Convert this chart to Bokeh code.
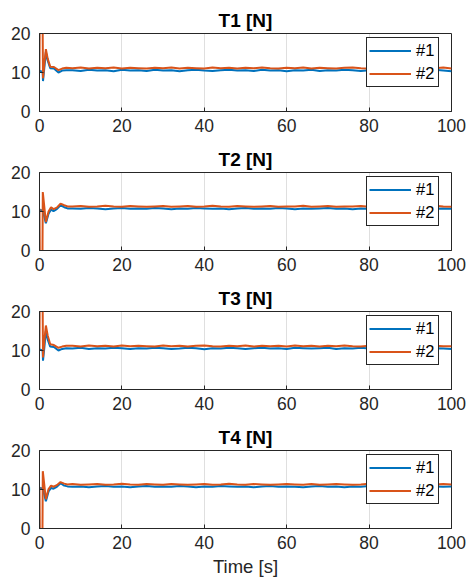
from bokeh.plotting import figure
from bokeh.layouts import column
from bokeh.embed import file_html
from bokeh.resources import INLINE

# ---------------- data ----------------
titles = ["T1 [N]", "T2 [N]", "T3 [N]", "T4 [N]"]
series_labels = ["#1", "#2"]
x_ticks = [0, 20, 40, 60, 80, 100]
y_ticks = [0, 10, 20]

# steady-state sample times (s)
t_ss = list(range(8, 101, 2))

# transient sample times (s)
t1_tr = [0, 0.05, 0.75, 0.85, 1.2, 1.55, 2.0, 2.6, 3.5, 4.6, 5.5, 6.5]
t2_tr = [0, 0.1, 0.7, 0.8, 1.55, 2.2, 2.8, 3.4, 4.2, 5.1, 6.0, 6.8]

# T1
b1_tr = [10.5, 10.4, 10.2, 7.8, 11.5, 15.2, 13.0, 11.1, 11.0, 10.0, 10.5, 10.6]
o1_tr = [10.5, 24.0, 24.0, 8.5, 12.5, 16.0, 13.5, 11.5, 11.4, 10.6, 11.0, 11.2]
b1_ss = [10.6, 10.4, 10.7, 10.5, 10.6, 10.3, 10.7, 10.5, 10.6, 10.4,
         10.7, 10.5, 10.6, 10.3, 10.6, 10.7, 10.5, 10.4, 10.6, 10.7,
         10.5, 10.6, 10.4, 10.7, 10.5, 10.6, 10.3, 10.6, 10.5, 10.7,
         10.4, 10.6, 10.5, 10.7, 10.6, 10.4, 10.6, 10.5, 10.7, 10.5,
         10.6, 10.4, 10.6, 10.5, 10.7, 10.5, 10.3]
o1_ss = [11.1, 11.3, 11.0, 11.2, 11.1, 11.3, 11.0, 11.2, 11.1, 11.0,
         11.2, 11.1, 11.3, 11.0, 11.2, 11.1, 11.0, 11.3, 11.1, 11.2,
         11.0, 11.2, 11.1, 11.3, 11.1, 11.0, 11.2, 11.1, 11.3, 11.0,
         11.2, 11.1, 11.0, 11.2, 11.3, 11.1, 11.0, 11.2, 11.1, 11.3,
         11.1, 11.2, 11.0, 11.2, 11.1, 11.3, 11.0]

# T2
b2_tr = [10.5, 10.4, 10.3, 10.2, 7.0, 9.4, 10.5, 10.1, 10.6, 11.6, 11.1, 10.8]
o2_tr = [10.7, -5.0, -5.0, 15.0, 7.3, 10.0, 11.1, 10.6, 11.0, 12.0, 11.6, 11.3]
b2_ss = [10.8, 10.7, 10.9, 10.8, 10.6, 10.8, 10.9, 10.7, 10.8, 10.7,
         10.9, 10.8, 10.6, 10.8, 10.7, 10.9, 10.8, 10.7, 10.8, 10.6,
         10.8, 10.9, 10.7, 10.8, 10.7, 10.9, 10.8, 10.6, 10.8, 10.7,
         10.8, 10.9, 10.7, 10.8, 10.6, 10.8, 10.7, 10.9, 10.8, 10.7,
         10.8, 10.6, 10.8, 10.9, 10.7, 10.8, 10.7]
o2_ss = [11.3, 11.4, 11.2, 11.3, 11.5, 11.3, 11.2, 11.4, 11.3, 11.2,
         11.3, 11.4, 11.2, 11.3, 11.4, 11.2, 11.3, 11.5, 11.3, 11.2,
         11.4, 11.3, 11.2, 11.3, 11.4, 11.2, 11.3, 11.3, 11.5, 11.2,
         11.3, 11.4, 11.2, 11.3, 11.3, 11.4, 11.2, 11.3, 11.4, 11.2,
         11.3, 11.4, 11.2, 11.3, 11.5, 11.3, 11.2]

# T3
b3_tr = [10.4, 10.3, 10.0, 7.4, 11.0, 15.0, 12.8, 11.0, 10.9, 10.0, 10.4, 10.6]
o3_tr = [10.5, 24.0, 24.0, 8.2, 12.8, 16.4, 13.8, 11.6, 11.4, 10.7, 11.0, 11.2]
b3_ss = [10.5, 10.7, 10.4, 10.6, 10.5, 10.7, 10.6, 10.4, 10.6, 10.5,
         10.7, 10.6, 10.4, 10.5, 10.7, 10.6, 10.3, 10.6, 10.5, 10.7,
         10.6, 10.4, 10.6, 10.7, 10.5, 10.6, 10.4, 10.7, 10.6, 10.5,
         10.6, 10.7, 10.4, 10.6, 10.5, 10.7, 10.5, 10.6, 10.4, 10.6,
         10.7, 10.5, 10.6, 10.4, 10.6, 10.5, 10.4]
o3_ss = [11.2, 11.0, 11.3, 11.1, 11.2, 11.0, 11.3, 11.1, 11.2, 11.1,
         11.0, 11.3, 11.1, 11.2, 11.0, 11.2, 11.3, 11.1, 11.0, 11.2,
         11.1, 11.3, 11.0, 11.2, 11.1, 11.2, 11.0, 11.3, 11.1, 11.2,
         11.0, 11.2, 11.1, 11.3, 11.1, 11.0, 11.2, 11.1, 11.3, 11.0,
         11.2, 11.1, 11.3, 11.0, 11.2, 11.1, 11.1]

# T4
b4_tr = [10.5, 10.4, 10.3, 10.2, 7.0, 9.5, 10.4, 10.2, 10.7, 11.6, 11.0, 10.8]
o4_tr = [10.6, -5.0, -5.0, 14.7, 7.5, 10.1, 11.0, 10.7, 11.1, 11.9, 11.5, 11.3]
b4_ss = [10.7, 10.8, 10.6, 10.8, 10.9, 10.7, 10.8, 10.6, 10.8, 10.9,
         10.7, 10.8, 10.7, 10.9, 10.8, 10.6, 10.8, 10.7, 10.9, 10.8,
         10.7, 10.8, 10.6, 10.8, 10.9, 10.7, 10.8, 10.7, 10.6, 10.8,
         10.9, 10.7, 10.8, 10.6, 10.8, 10.7, 10.9, 10.8, 10.7, 10.8,
         10.6, 10.8, 10.7, 10.9, 10.8, 10.7, 10.8]
o4_ss = [11.4, 11.2, 11.3, 11.4, 11.2, 11.3, 11.5, 11.3, 11.2, 11.4,
         11.3, 11.2, 11.4, 11.3, 11.2, 11.3, 11.4, 11.2, 11.3, 11.5,
         11.3, 11.2, 11.4, 11.3, 11.2, 11.3, 11.4, 11.3, 11.2, 11.4,
         11.2, 11.3, 11.4, 11.3, 11.2, 11.3, 11.5, 11.2, 11.3, 11.4,
         11.2, 11.3, 11.4, 11.2, 11.3, 11.4, 11.3]

panels = [
    (t1_tr, b1_tr, o1_tr, b1_ss, o1_ss),
    (t2_tr, b2_tr, o2_tr, b2_ss, o2_ss),
    (t1_tr, b3_tr, o3_tr, b3_ss, o3_ss),
    (t2_tr, b4_tr, o4_tr, b4_ss, o4_ss),
]

BLUE = "#0072BD"
ORANGE = "#D95319"
AX = "#262626"
FONT = "Liberation Sans"

figs = []
for i, (ttr, btr, otr, bss, oss) in enumerate(panels):
    last = i == len(panels) - 1
    p = figure(frame_width=412, frame_height=78,
               x_range=(0, 100), y_range=(0, 20),
               output_backend="svg", toolbar_location=None,
               min_border_left=39, min_border_right=16,
               min_border_top=33, min_border_bottom=(58 if last else 28))
    p.title.text = titles[i]
    p.title.align = "center"
    p.title.text_font = FONT
    p.title.text_font_size = "19px"
    p.title.text_font_style = "bold"
    p.title.text_color = "#000000"
    p.title.standoff = 6

    t = ttr + t_ss
    p.line(t, btr + bss, color=BLUE, line_width=2, legend_label=series_labels[0])
    p.line(t, otr + oss, color=ORANGE, line_width=2, legend_label=series_labels[1])

    p.xaxis.ticker = x_ticks
    p.yaxis.ticker = y_ticks
    p.xgrid.ticker = x_ticks
    p.ygrid.visible = False
    p.xgrid.grid_line_color = AX
    p.xgrid.grid_line_alpha = 0.15
    for ax in (p.xaxis, p.yaxis):
        ax.axis_line_color = AX
        ax.major_tick_line_color = AX
        ax.major_tick_in = 4
        ax.major_tick_out = 0
        ax.minor_tick_line_color = None
        ax.major_label_text_font = FONT
        ax.major_label_text_font_size = "17.5px"
        ax.major_label_text_color = AX
    p.xaxis.major_label_standoff = 7
    p.yaxis.major_label_standoff = 9
    if last:
        p.xaxis.axis_label = "Time [s]"
        p.xaxis.axis_label_text_font = FONT
        p.xaxis.axis_label_text_font_size = "18.5px"
        p.xaxis.axis_label_text_font_style = "normal"
        p.xaxis.axis_label_text_color = AX
        p.xaxis.axis_label_standoff = 4
    p.outline_line_color = AX
    p.outline_line_alpha = 1

    lg = p.legend[0]
    lg.location = (327, 24)
    lg.margin = 0
    lg.padding = 2
    lg.spacing = 2
    lg.glyph_width = 42
    lg.glyph_height = 21
    lg.label_standoff = 5
    lg.label_width = 20
    lg.label_text_font = FONT
    lg.label_text_font_size = "16.5px"
    lg.label_text_color = "#000000"
    lg.border_line_color = AX
    lg.border_line_alpha = 1
    lg.background_fill_alpha = 1
    figs.append(p)

layout = column(*figs, spacing=0)
open("out.html", "w").write(file_html(layout, INLINE))
